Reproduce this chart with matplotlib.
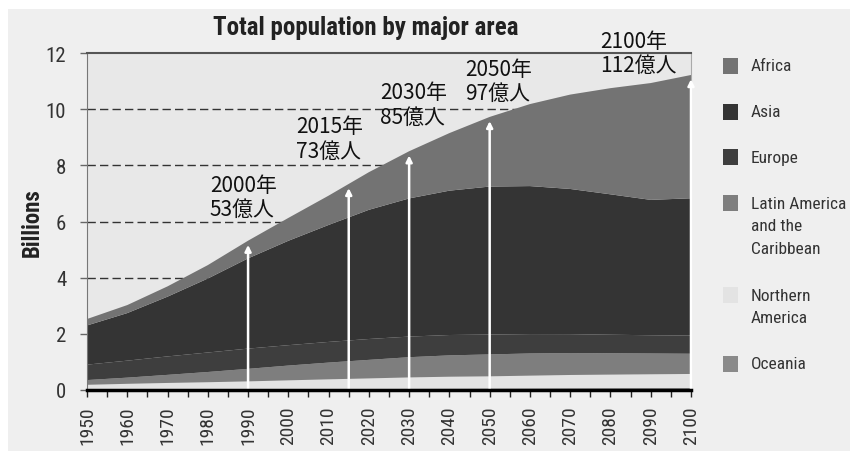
import numpy as np
import matplotlib
matplotlib.use("Agg")
import matplotlib.pyplot as plt
from matplotlib.patches import Rectangle
from matplotlib import font_manager

# pick a narrow font if there is one
names = set(f.name for f in font_manager.fontManager.ttflist)
narrow = "Roboto"
for cand in ["Liberation Sans Narrow", "Roboto Condensed", "Open Sans Condensed", "DejaVu Sans Condensed"]:
    if cand in names:
        narrow = cand
        break
cjk = ["Noto Sans CJK JP", "DejaVu Sans"]

# population by major area, billions
years = [1950, 1960, 1970, 1980, 1990, 2000, 2010, 2020, 2030, 2040, 2050, 2060, 2070, 2080, 2090, 2100]
oceania = [0.013, 0.016, 0.020, 0.023, 0.027, 0.031, 0.037, 0.043, 0.048, 0.053, 0.057, 0.061, 0.065, 0.068, 0.070, 0.071]
n_america = [0.172, 0.204, 0.231, 0.254, 0.280, 0.313, 0.343, 0.370, 0.400, 0.420, 0.430, 0.450, 0.470, 0.480, 0.490, 0.500]
latin = [0.169, 0.220, 0.288, 0.364, 0.446, 0.526, 0.596, 0.660, 0.720, 0.760, 0.780, 0.790, 0.780, 0.760, 0.740, 0.720]
europe = [0.549, 0.605, 0.657, 0.694, 0.721, 0.726, 0.736, 0.743, 0.734, 0.725, 0.707, 0.690, 0.674, 0.660, 0.650, 0.646]
asia = [1.395, 1.694, 2.128, 2.634, 3.213, 3.717, 4.165, 4.600, 4.920, 5.140, 5.270, 5.270, 5.170, 5.000, 4.820, 4.890]
africa = [0.229, 0.285, 0.366, 0.478, 0.630, 0.814, 1.044, 1.340, 1.680, 2.050, 2.480, 2.920, 3.360, 3.780, 4.160, 4.390]

series = [oceania, n_america, latin, europe, asia, africa]
names_ = ["Oceania", "Northern\nAmerica", "Latin America\nand the\nCaribbean", "Europe", "Asia", "Africa"]
colors = ["#8a8a8a", "#e3e3e3", "#7e7e7e", "#3e3e3e", "#343434", "#737373"]

# callouts
arrow_years = [1990, 2015, 2030, 2050, 2100]
labels = ["2000年\n53億人", "2015年\n73億人", "2030年\n85億人", "2050年\n97億人", "2100年\n112億人"]
label_x = [1980.5, 2001.9, 2022.8, 2043.9, 2077.4]
label_y = [6.87, 8.96, 10.17, 11.0, 12.0]

W, H = 850, 452
fig = plt.figure(figsize=(8.5, 4.52), dpi=100, facecolor="white")
fig.patches.append(Rectangle((8 / W, 0), 1, 1 - 10 / H, transform=fig.transFigure,
                             facecolor="#efefef", edgecolor="none", zorder=-10))
ax = fig.add_axes([87 / W, 1 - 391 / H, (691 - 87) / W, (391 - 54) / H])
ax.set_facecolor("#e8e8e8")

ax.stackplot(years, *series, colors=colors, zorder=2, linewidth=0)

for y in [4, 6, 8, 10]:
    ax.axhline(y, color="#333333", lw=1, ls=(0, (6, 3)), zorder=1)

total = np.sum(series, axis=0)
for yr in arrow_years:
    top = np.interp(yr, years, total) - 0.15
    ax.annotate("", xy=(yr, top), xytext=(yr, 0),
                arrowprops=dict(arrowstyle="-|>", color="white", lw=1.8,
                                mutation_scale=9, shrinkA=0, shrinkB=0),
                zorder=4)

for t, x, y in zip(labels, label_x, label_y):
    ax.text(x, y, t, family=cjk, fontsize=15, color="#111111", ha="left", va="center",
            linespacing=1.15, zorder=5, clip_on=False)

ax.set_xlim(1950, 2100)
ax.set_ylim(0, 12)
ax.set_xticks(range(1950, 2101, 10))
ax.set_xticks(range(1955, 2100, 10), minor=True)
ax.set_yticks(range(0, 13, 2))
ax.tick_params(axis="x", which="both", length=5, width=1, color="#222222", labelrotation=90,
               labelsize=14, labelcolor="#333333", pad=6)
ax.tick_params(axis="y", length=5, width=1, color="#666666", labelsize=15, labelcolor="#333333", pad=10)
for lab in ax.get_xticklabels() + ax.get_yticklabels():
    lab.set_family(narrow)

ax.spines["bottom"].set_linewidth(2.5)
ax.spines["bottom"].set_color("black")
ax.spines["bottom"].set_zorder(6)
ax.spines["left"].set_color("#777777")
ax.spines["top"].set_color("#555555")
ax.spines["top"].set_linewidth(1.5)
ax.spines["right"].set_color("#aaaaaa")

ax.set_ylabel("Billions", family=narrow, fontweight="bold", fontsize=16.5, color="#222222", labelpad=1)
fig.text(0.43, 0.938, "Total population by major area", family=narrow, fontweight="bold",
         fontsize=18, color="#222222", ha="center", va="center")

# hand-built legend, top-down (Africa first), so the line spacing can match
line_h = 23.5   # px per text line
gap = 45.5      # px from last line of one entry to first line of the next
y_px = 67
for name, c in zip(names_[::-1], colors[::-1]):
    n = name.count("\n") + 1
    fig.patches.append(Rectangle((723 / W, 1 - (y_px + 8) / H), 15 / W, 16 / H,
                                 transform=fig.transFigure, facecolor=c, edgecolor="none"))
    mid = y_px + (n - 1) * line_h / 2
    fig.text(751 / W, 1 - mid / H, name, family=narrow, fontsize=12.5, color="#333333",
             ha="left", va="center", linespacing=1.62)
    y_px += (n - 1) * line_h + gap

fig.savefig("out.png", dpi=100, facecolor=fig.get_facecolor())
